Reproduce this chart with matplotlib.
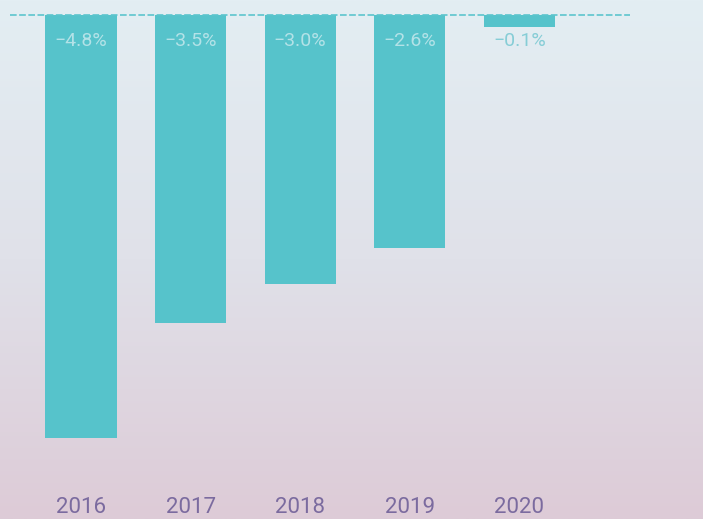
import numpy as np
import matplotlib.pyplot as plt
from matplotlib.colors import LinearSegmentedColormap

plt.rcParams['font.family'] = ['Roboto', 'DejaVu Sans']

# data
years = ["2016", "2017", "2018", "2019", "2020"]
values = [-4.8, -3.5, -3.05, -2.64, -0.14]
labels = ["\u22124.8%", "\u22123.5%", "\u22123.0%", "\u22122.6%", "\u22120.1%"]

bar_color = "#56c3cb"
tick_color = "#7b6b9f"

fig = plt.figure(figsize=(7.03, 5.19), dpi=100)

# gradient background
bg = fig.add_axes([0, 0, 1, 1], zorder=-10)
grad = LinearSegmentedColormap.from_list("bg", ["#e3eef3", "#e0e1e9", "#ddcbd7"])
bg.imshow(np.linspace(0, 1, 256).reshape(-1, 1), aspect="auto", cmap=grad,
          extent=[0, 1, 0, 1])
bg.axis("off")

ax = fig.add_axes([10 / 703, (519 - 482) / 519, 620 / 703, (482 - 15) / 519])
ax.patch.set_alpha(0)
x = np.arange(len(years))
ax.bar(x, values, width=0.65, color=bar_color, zorder=2)
ax.axhline(0, color="#5cc5cd", lw=1.2, ls=(0, (4, 1.5)), zorder=3, clip_on=False)

for xi, v, lab in zip(x, values, labels):
    c = "#b3e2e7" if v < -0.5 else "#86cdd6"
    ax.text(xi, -0.3, lab, ha="center", va="center", fontsize=14,
            color=c, zorder=4)

ax.set_xlim(-0.648, 5.01)
ax.set_ylim(-5.3, 0)
ax.set_xticks(x)
ax.set_xticklabels(years, fontsize=16, color=tick_color)
ax.tick_params(axis="x", length=0, pad=11)
ax.set_yticks([])
for s in ax.spines.values():
    s.set_visible(False)

fig.savefig("out.png", dpi=100)
